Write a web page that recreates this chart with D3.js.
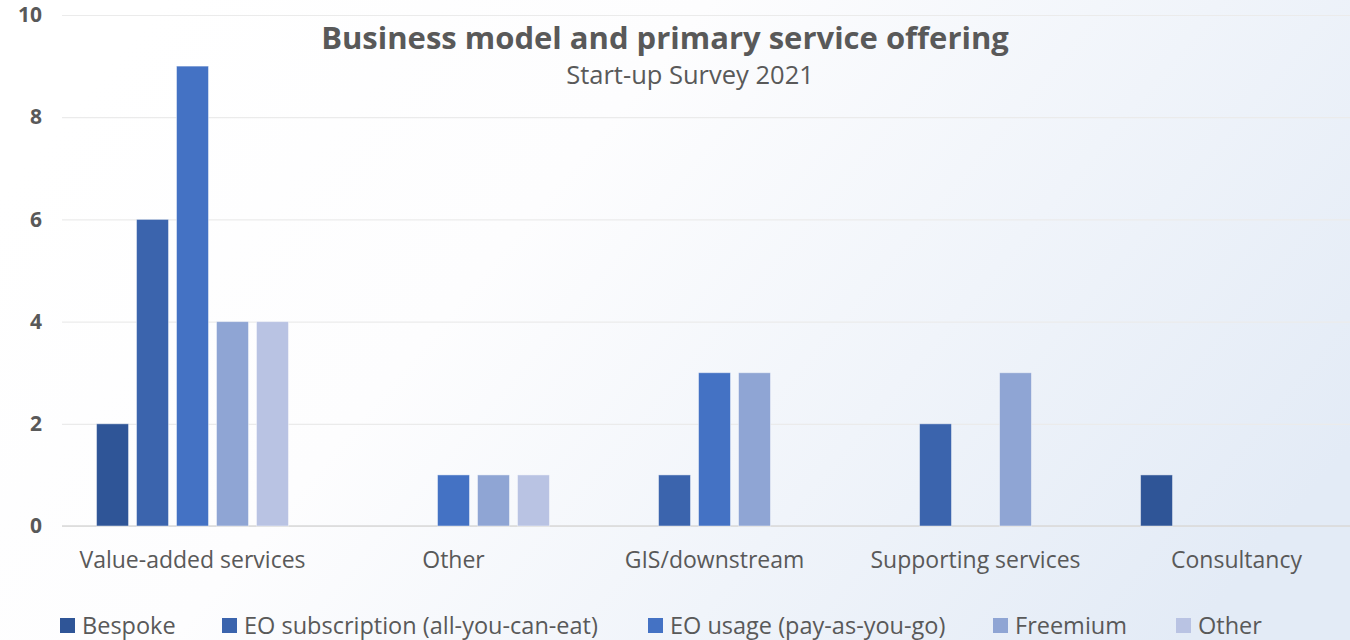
<!DOCTYPE html>
<html>
<head>
<meta charset="utf-8">
<script src="https://cdn.jsdelivr.net/npm/d3@7/dist/d3.min.js"></script>
<style>
  html, body { margin: 0; padding: 0; background: #fff; }
  svg { display: block; }
  text { font-family: "Open Sans", "Noto Sans", sans-serif; fill: #595959; }
</style>
</head>
<body>
<svg id="chart" width="1350" height="640"></svg>
<script>
// Service offerings (x categories) and business models (series)
const categories = ["Value-added services", "Other", "GIS/downstream", "Supporting services", "Consultancy"];
const seriesNames = ["Bespoke", "EO subscription (all-you-can-eat)", "EO usage (pay-as-you-go)", "Freemium", "Other"];
const bespoke      = [2, 0, 0, 0, 1];
const subscription = [6, 0, 1, 2, 0];
const usage        = [9, 1, 3, 0, 0];
const freemium     = [4, 1, 3, 3, 0];
const otherModel   = [4, 1, 0, 0, 0];
const yTicks = [0, 2, 4, 6, 8, 10];
const colors = ["#2F5597", "#3B64AD", "#4472C4", "#8FA5D4", "#B9C3E3"];

const seriesValues = [bespoke, subscription, usage, freemium, otherModel];
const rows = categories.map((c, i) => ({
  category: c,
  values: seriesNames.map((s, j) => ({ key: j, value: seriesValues[j][i] }))
}));

const svg = d3.select("#chart");
const W = 1350, H = 640;

// Background wash: white on the left fading to pale blue on the right
const defs = svg.append("defs");
const bg = defs.append("linearGradient").attr("id", "bg")
  .attr("x1", "0%").attr("y1", "30%").attr("x2", "100%").attr("y2", "70%");
bg.append("stop").attr("offset", "0%").attr("stop-color", "#FFFFFF");
bg.append("stop").attr("offset", "35%").attr("stop-color", "#FDFDFE");
bg.append("stop").attr("offset", "100%").attr("stop-color", "#E3EBF6");
svg.append("rect").attr("width", W).attr("height", H).attr("fill", "url(#bg)");

const plot = { left: 62, right: 1367, top: 15, bottom: 526 };

const x0 = d3.scaleBand().domain(categories)
  .range([plot.left, plot.right]).paddingInner(0.234).paddingOuter(0.117);
const x1 = d3.scaleBand().domain(d3.range(seriesNames.length))
  .range([0, x0.bandwidth()]).paddingInner(0.2).paddingOuter(0.1);
const y = d3.scaleLinear().domain([0, 10]).range([plot.bottom, plot.top]);

// Gridlines and value axis labels
const yAxis = d3.axisLeft(y).tickValues(yTicks).tickSize(-(W - plot.left)).tickPadding(20);
const gy = svg.append("g").attr("transform", `translate(${plot.left},0)`).call(yAxis);
gy.select(".domain").remove();
gy.selectAll(".tick line").attr("stroke", "#EBEBEB").attr("stroke-width", 1.2);
gy.selectAll(".tick text")
  .style("font-size", "21px").style("font-weight", "bold").attr("fill", "#595959");

// Baseline
svg.append("line").attr("x1", plot.left).attr("x2", W)
  .attr("y1", y(0)).attr("y2", y(0)).attr("stroke", "#D9D9D9").attr("stroke-width", 1.5);

// Bars
const groups = svg.append("g").selectAll("g").data(rows).join("g")
  .attr("transform", d => `translate(${x0(d.category)},0)`);
groups.selectAll("rect").data(d => d.values.filter(v => v.value > 0)).join("rect")
  .attr("x", d => x1(d.key))
  .attr("width", x1.bandwidth())
  .attr("y", d => y(d.value))
  .attr("height", d => y(0) - y(d.value))
  .attr("fill", d => colors[d.key])
  .attr("stroke", "rgba(255,255,255,0.45)").attr("stroke-width", 1);

// Category labels
const xAxis = d3.axisBottom(x0).tickSize(0).tickPadding(26);
const gx = svg.append("g").attr("transform", `translate(0,${plot.bottom})`).call(xAxis);
gx.select(".domain").remove();
gx.selectAll(".tick text").style("font-size", "23px").attr("fill", "#595959");

// Title
svg.append("text").attr("x", 665).attr("y", 49).attr("text-anchor", "middle")
  .style("font-size", "31px").style("font-weight", "bold").attr("fill", "#595959")
  .text("Business model and primary service offering");
svg.append("text").attr("x", 690).attr("y", 84).attr("text-anchor", "middle")
  .style("font-size", "25.5px").attr("fill", "#595959")
  .text("Start-up Survey 2021");

// Legend
const legendX = [60, 222, 648, 993, 1176];
const legend = svg.append("g").selectAll("g").data(seriesNames).join("g")
  .attr("transform", (d, i) => `translate(${legendX[i]},618)`);
legend.append("rect").attr("width", 15).attr("height", 15).attr("fill", (d, i) => colors[i]);
legend.append("text").attr("x", 22).attr("y", 16)
  .style("font-size", "23.5px").attr("fill", "#595959").text(d => d);
</script>
</body>
</html>
